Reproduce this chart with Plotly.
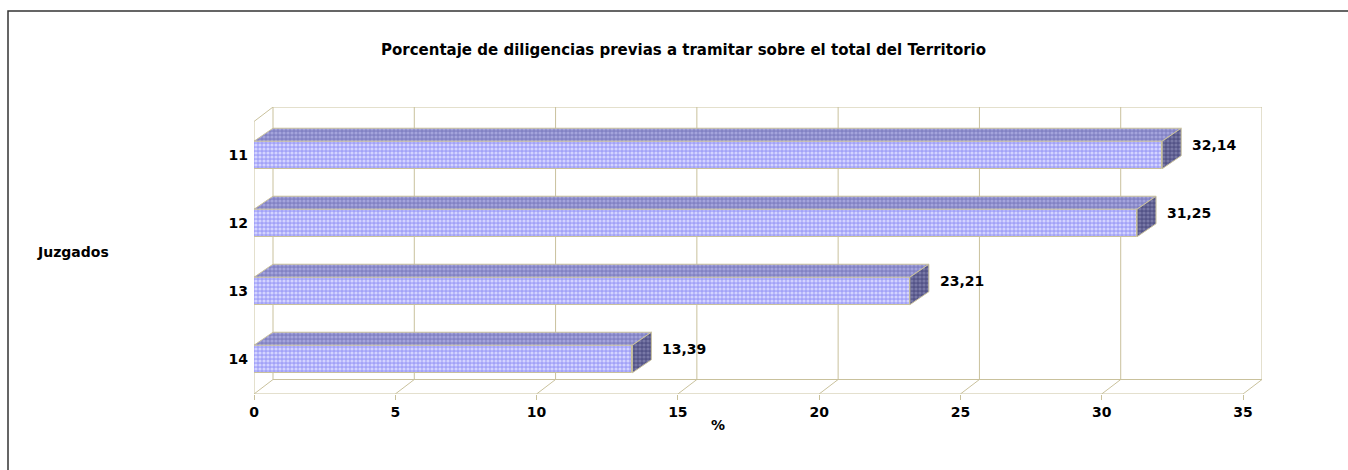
import plotly.graph_objects as go

# ---- data ----
categories = ["11", "12", "13", "14"]
values = [32.14, 31.25, 23.21, 13.39]
value_labels = ["32,14", "31,25", "23,21", "13,39"]
x_ticks = [0, 5, 10, 15, 20, 25, 30, 35]
title_text = "Porcentaje de diligencias previas a tramitar sobre el total del Territorio"
y_title = "Juzgados"
x_title = "%"

# ---- geometry (pixels -> data units) ----
W, H = 1348, 470
L, R, T, B = 254, 86, 107, 76
XMAX = 35
px_x = 989 / XMAX            # px per x unit
px_y = 68.0                  # px per category step
wall_dx = 19 / px_x
wall_dy = 14.5 / px_y
bar_dx = 19 / px_x
bar_dy = 13 / px_y
bar_w = 27.5 / px_y
y_bot = -0.515
y_top = y_bot + (H - T - B) / px_y
x_top = XMAX + wall_dx
fy = y_bot + wall_dy

ypos = [len(categories) - 1 - i for i in range(len(categories))]

EDGE = "#c9c19c"
FONT = "DejaVu Sans"

fig = go.Figure()

# front faces
fig.add_trace(go.Bar(
    x=values, y=ypos, base=0, orientation="h", width=bar_w,
    marker=dict(color="#a8a8fa",
                line=dict(color=EDGE, width=1),
                pattern=dict(shape=".", bgcolor="#a2a2f8", fgcolor="#d4d4ff",
                             size=4, solidity=0.5, fillmode="replace")),
    hoverinfo="skip", showlegend=False))

# top and side faces
for v, y in zip(values, ypos):
    yt = y + bar_w / 2
    yb = y - bar_w / 2
    fig.add_trace(go.Scatter(
        x=[0, v, v + bar_dx, bar_dx, 0],
        y=[yt, yt, yt + bar_dy, yt + bar_dy, yt],
        mode="lines", fill="toself", fillcolor="#8888cc",
        fillpattern=dict(shape=".", bgcolor="#8282c4", fgcolor="#a4a4dc",
                         size=4, solidity=0.5, fillmode="replace"),
        line=dict(color=EDGE, width=1), hoverinfo="skip", showlegend=False))
    fig.add_trace(go.Scatter(
        x=[v, v + bar_dx, v + bar_dx, v, v],
        y=[yb, yb + bar_dy, yt + bar_dy, yt, yb],
        mode="lines", fill="toself", fillcolor="#5a5a8c",
        fillpattern=dict(shape=".", bgcolor="#545488", fgcolor="#7878a6",
                         size=4, solidity=0.5, fillmode="replace"),
        line=dict(color=EDGE, width=1), hoverinfo="skip", showlegend=False))

# walls, floor, gridlines
shapes = []
def seg(x0, y0, x1, y1):
    shapes.append(dict(type="line", xref="x", yref="y", x0=x0, y0=y0, x1=x1, y1=y1,
                       line=dict(color=EDGE, width=1), layer="below"))

seg(wall_dx, fy, wall_dx, y_top)
seg(wall_dx, y_top, x_top, y_top)
seg(x_top, y_top, x_top, fy)
seg(wall_dx, fy, x_top, fy)
for t in x_ticks[1:-1]:
    seg(t + wall_dx, fy, t + wall_dx, y_top)
seg(0, y_bot, 0, y_top - wall_dy)
seg(0, y_top - wall_dy, wall_dx, y_top)
seg(0, y_bot, XMAX, y_bot)
for t in x_ticks:
    seg(t, y_bot, t + wall_dx, fy)

# outer frame
pw = W - L - R
ph = H - T - B
shapes.append(dict(type="rect", xref="paper", yref="paper",
                   x0=(8 - L) / pw, x1=(W + 6 - L) / pw,
                   y0=(H - T - B - (H + 6 - T)) / ph, y1=(H - B - 11) / ph,
                   line=dict(color="#333333", width=1.5), layer="below"))

annotations = []
for v, y, lab in zip(values, ypos, value_labels):
    annotations.append(dict(x=v + bar_dx, y=y + 0.14, xref="x", yref="y", text=lab,
                            showarrow=False, xanchor="left", yanchor="middle", xshift=9,
                            font=dict(family=FONT, size=14, color="black", weight="bold")))
annotations.append(dict(x=(73 - L) / pw, y=(H - B - 252) / ph, xref="paper", yref="paper",
                        text=y_title, showarrow=False, xanchor="center", yanchor="middle",
                        font=dict(family=FONT, size=14, color="black", weight="bold")))
annotations.append(dict(x=(718 - L) / px_x, y=(H - B - 425) / ph, xref="x", yref="paper",
                        text=x_title, showarrow=False, xanchor="center", yanchor="middle",
                        font=dict(family=FONT, size=14, color="black", weight="bold")))
annotations.append(dict(x=(683 - L) / pw, y=(H - B - 50) / ph, xref="paper", yref="paper",
                        text=title_text, showarrow=False, xanchor="center", yanchor="middle",
                        font=dict(family=FONT, size=15, color="black", weight="bold")))

fig.update_layout(
    width=W, height=H,
    margin=dict(l=L, r=R, t=T, b=B, pad=0),
    paper_bgcolor="white", plot_bgcolor="rgba(0,0,0,0)",
    shapes=shapes, annotations=annotations,
    bargap=0, showlegend=False,
    xaxis=dict(range=[0, x_top], tickvals=x_ticks, ticktext=[str(t) for t in x_ticks],
               showgrid=False, zeroline=False, showline=False,
               ticks="outside", ticklen=5, tickcolor=EDGE, tickwidth=1,
               tickfont=dict(family=FONT, size=14, color="black", weight="bold"),
               fixedrange=True),
    yaxis=dict(range=[y_bot, y_top], tickvals=ypos, ticktext=categories,
               showgrid=False, zeroline=False, showline=False, ticks="",
               ticklabelstandoff=5,
               tickfont=dict(family=FONT, size=14, color="black", weight="bold"),
               fixedrange=True),
)

fig.write_html("out.html", config={"displayModeBar": False},
               post_script="document.body.style.margin='0';")
